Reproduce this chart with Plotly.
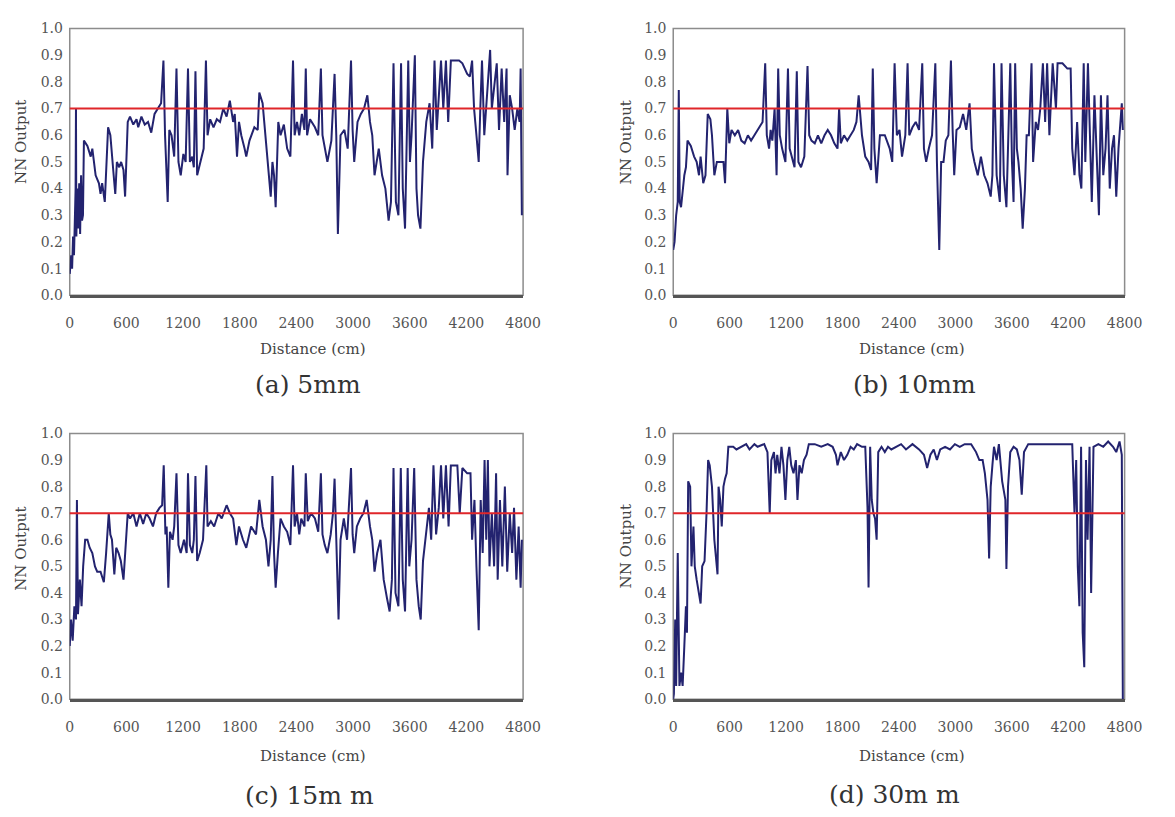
import plotly.graph_objects as go

# ---------------- data ----------------
A_X = [0, 15, 25, 35, 45, 55, 62, 66, 70, 80, 90, 100, 110, 120, 130, 140, 150, 187, 222, 239,
       274, 309, 326, 343, 371, 406, 430, 465, 482, 499, 524, 544, 569, 586, 614, 638, 673, 707, 725, 759,
       794, 829, 863, 898, 933, 967, 992, 1009, 1037, 1054, 1078, 1106, 1130, 1151, 1175, 1203, 1227, 1252, 1272, 1297,
       1314, 1331, 1349, 1383, 1418, 1442, 1459, 1487, 1522, 1557, 1591, 1626, 1661, 1695, 1730, 1747, 1771, 1792, 1816, 1851,
       1869, 1903, 1955, 1990, 2007, 2042, 2077, 2104, 2128, 2146, 2163, 2180, 2208, 2232, 2267, 2302, 2336, 2364, 2381, 2406,
       2430, 2458, 2485, 2499, 2513, 2544, 2596, 2631, 2659, 2676, 2700, 2728, 2770, 2804, 2822, 2839, 2867, 2908, 2943, 2978,
       2995, 3012, 3047, 3082, 3116, 3151, 3179, 3203, 3227, 3248, 3272, 3307, 3342, 3376, 3401, 3428, 3453, 3480, 3508, 3526,
       3550, 3584, 3602, 3619, 3654, 3671, 3688, 3713, 3740, 3775, 3810, 3838, 3862, 3886, 3907, 3931, 3955, 3983, 4007, 4035,
       4122, 4157, 4208, 4236, 4260, 4281, 4306, 4330, 4347, 4365, 4389, 4416, 4451, 4469, 4486, 4521, 4545, 4573, 4600, 4625,
       4635, 4659, 4684, 4711, 4739, 4763, 4774, 4787]
A_Y = [0.08, 0.15, 0.10, 0.22, 0.15, 0.25, 0.40, 0.70, 0.22, 0.40, 0.25, 0.42, 0.23, 0.45, 0.28, 0.30, 0.58, 0.56, 0.52, 0.55,
       0.45, 0.42, 0.38, 0.42, 0.35, 0.63, 0.60, 0.45, 0.38, 0.50, 0.48, 0.50, 0.47, 0.37, 0.65, 0.67, 0.64, 0.66, 0.63, 0.67,
       0.64, 0.65, 0.61, 0.68, 0.70, 0.72, 0.88, 0.60, 0.35, 0.62, 0.60, 0.52, 0.85, 0.50, 0.45, 0.53, 0.50, 0.85, 0.50, 0.52,
       0.48, 0.84, 0.45, 0.50, 0.55, 0.88, 0.60, 0.66, 0.63, 0.66, 0.65, 0.70, 0.67, 0.73, 0.65, 0.68, 0.52, 0.65, 0.60, 0.55,
       0.52, 0.58, 0.63, 0.62, 0.76, 0.72, 0.58, 0.48, 0.37, 0.50, 0.45, 0.33, 0.65, 0.60, 0.64, 0.55, 0.52, 0.88, 0.60, 0.65,
       0.60, 0.68, 0.62, 0.85, 0.60, 0.66, 0.63, 0.60, 0.85, 0.60, 0.55, 0.50, 0.58, 0.83, 0.60, 0.23, 0.60, 0.62, 0.55, 0.88,
       0.62, 0.50, 0.65, 0.68, 0.70, 0.75, 0.65, 0.60, 0.45, 0.50, 0.55, 0.45, 0.40, 0.28, 0.35, 0.87, 0.35, 0.30, 0.87, 0.40,
       0.25, 0.88, 0.50, 0.60, 0.90, 0.40, 0.30, 0.25, 0.50, 0.65, 0.72, 0.55, 0.88, 0.62, 0.75, 0.88, 0.70, 0.88, 0.65, 0.88,
       0.88, 0.87, 0.83, 0.82, 0.88, 0.70, 0.60, 0.50, 0.70, 0.88, 0.60, 0.75, 0.92, 0.70, 0.75, 0.87, 0.62, 0.85, 0.65, 0.85,
       0.45, 0.75, 0.70, 0.62, 0.70, 0.65, 0.85, 0.30]

B_X = [0, 14, 31, 48, 59, 69, 83, 100, 118, 135, 152, 187, 222, 249, 274, 291, 319, 343, 367, 395,
       412, 437, 464, 499, 534, 551, 575, 596, 620, 655, 690, 724, 759, 794, 828, 863, 915, 950, 978, 995,
       1019, 1036, 1054, 1078, 1099, 1116, 1133, 1158, 1193, 1220, 1238, 1262, 1290, 1314, 1331, 1359, 1394, 1428, 1446, 1470,
       1505, 1539, 1574, 1609, 1643, 1678, 1713, 1747, 1764, 1782, 1816, 1851, 1886, 1920, 1948, 1972, 2007, 2042, 2077, 2104,
       2122, 2139, 2163, 2198, 2250, 2302, 2329, 2354, 2378, 2406, 2433, 2468, 2492, 2510, 2544, 2579, 2614, 2648, 2666, 2690,
       2718, 2752, 2787, 2804, 2829, 2849, 2874, 2898, 2926, 2953, 2971, 2988, 3012, 3047, 3082, 3116, 3151, 3175, 3203, 3238,
       3272, 3307, 3342, 3376, 3394, 3411, 3439, 3473, 3491, 3515, 3543, 3567, 3584, 3602, 3619, 3636, 3654, 3671, 3695, 3716,
       3740, 3758, 3782, 3810, 3827, 3855, 3879, 3903, 3931, 3955, 3976, 4000, 4035, 4070, 4087, 4139, 4191, 4226, 4243, 4267,
       4295, 4320, 4340, 4365, 4382, 4410, 4434, 4451, 4479, 4503, 4527, 4548, 4573, 4597, 4618, 4642, 4666, 4687, 4711, 4735,
       4756, 4770, 4781]
B_Y = [0.17, 0.20, 0.30, 0.35, 0.77, 0.35, 0.33, 0.40, 0.45, 0.48, 0.58, 0.56, 0.52, 0.50, 0.45, 0.52, 0.42, 0.45, 0.68, 0.66,
       0.60, 0.45, 0.50, 0.50, 0.50, 0.42, 0.70, 0.57, 0.62, 0.60, 0.62, 0.58, 0.57, 0.60, 0.58, 0.60, 0.63, 0.65, 0.87, 0.60,
       0.55, 0.62, 0.58, 0.70, 0.45, 0.85, 0.60, 0.55, 0.50, 0.85, 0.55, 0.52, 0.48, 0.84, 0.50, 0.48, 0.52, 0.86, 0.60, 0.58,
       0.57, 0.60, 0.57, 0.60, 0.62, 0.60, 0.57, 0.55, 0.70, 0.57, 0.60, 0.58, 0.60, 0.62, 0.65, 0.75, 0.60, 0.52, 0.50, 0.47,
       0.85, 0.55, 0.42, 0.60, 0.60, 0.55, 0.50, 0.87, 0.60, 0.62, 0.52, 0.60, 0.87, 0.60, 0.63, 0.65, 0.62, 0.87, 0.55, 0.50,
       0.55, 0.60, 0.87, 0.50, 0.17, 0.50, 0.50, 0.58, 0.60, 0.88, 0.62, 0.45, 0.62, 0.63, 0.68, 0.62, 0.72, 0.55, 0.50, 0.45,
       0.52, 0.45, 0.42, 0.37, 0.45, 0.87, 0.45, 0.35, 0.87, 0.45, 0.33, 0.60, 0.87, 0.50, 0.35, 0.87, 0.55, 0.50, 0.40, 0.25,
       0.40, 0.60, 0.60, 0.87, 0.50, 0.65, 0.62, 0.70, 0.87, 0.65, 0.87, 0.60, 0.87, 0.70, 0.87, 0.87, 0.85, 0.85, 0.55, 0.45,
       0.65, 0.45, 0.40, 0.87, 0.50, 0.87, 0.55, 0.35, 0.75, 0.50, 0.30, 0.75, 0.45, 0.55, 0.75, 0.40, 0.55, 0.60, 0.37, 0.55,
       0.68, 0.72, 0.62]

C_X = [0, 14, 31, 49, 66, 76, 87, 107, 125, 142, 163, 187, 211, 239, 267, 291, 326, 361, 385, 413,
       430, 447, 472, 492, 517, 541, 569, 593, 614, 638, 673, 707, 742, 777, 811, 846, 881, 915, 950, 978,
       995, 1013, 1026, 1044, 1061, 1089, 1106, 1130, 1151, 1175, 1210, 1238, 1252, 1272, 1297, 1314, 1331, 1349, 1376, 1411,
       1446, 1459, 1494, 1529, 1574, 1609, 1661, 1695, 1730, 1764, 1792, 1834, 1869, 1920, 1972, 2007, 2042, 2077, 2104, 2128,
       2146, 2163, 2180, 2204, 2232, 2267, 2302, 2336, 2364, 2381, 2406, 2430, 2451, 2485, 2499, 2520, 2555, 2596, 2631, 2659,
       2676, 2700, 2728, 2763, 2787, 2804, 2822, 2846, 2867, 2902, 2936, 2978, 2995, 3012, 3040, 3075, 3110, 3144, 3179, 3203,
       3227, 3255, 3290, 3324, 3359, 3387, 3411, 3428, 3449, 3480, 3505, 3526, 3550, 3578, 3595, 3619, 3647, 3671, 3695, 3716,
       3740, 3768, 3803, 3827, 3851, 3879, 3907, 3931, 3955, 3983, 4011, 4035, 4104, 4129, 4157, 4208, 4243, 4260, 4285, 4306,
       4330, 4351, 4372, 4392, 4410, 4427, 4444, 4469, 4493, 4514, 4531, 4555, 4580, 4607, 4632, 4659, 4684, 4704, 4729, 4753,
       4774, 4787]
C_Y = [0.20, 0.30, 0.22, 0.35, 0.30, 0.75, 0.32, 0.45, 0.35, 0.50, 0.60, 0.60, 0.57, 0.55, 0.50, 0.48, 0.48, 0.44, 0.55, 0.70,
       0.62, 0.60, 0.47, 0.57, 0.55, 0.52, 0.45, 0.60, 0.70, 0.68, 0.70, 0.65, 0.70, 0.66, 0.70, 0.68, 0.65, 0.70, 0.72, 0.73,
       0.88, 0.62, 0.65, 0.42, 0.63, 0.60, 0.65, 0.85, 0.58, 0.55, 0.60, 0.55, 0.85, 0.58, 0.55, 0.60, 0.84, 0.52, 0.55, 0.60,
       0.88, 0.65, 0.67, 0.65, 0.70, 0.68, 0.73, 0.70, 0.68, 0.58, 0.65, 0.60, 0.57, 0.65, 0.62, 0.75, 0.65, 0.60, 0.50, 0.60,
       0.84, 0.55, 0.42, 0.55, 0.68, 0.65, 0.63, 0.58, 0.88, 0.65, 0.70, 0.62, 0.68, 0.65, 0.85, 0.67, 0.70, 0.68, 0.63, 0.85,
       0.62, 0.58, 0.55, 0.62, 0.70, 0.83, 0.60, 0.30, 0.60, 0.68, 0.60, 0.87, 0.62, 0.55, 0.65, 0.68, 0.70, 0.75, 0.65, 0.60,
       0.48, 0.55, 0.60, 0.45, 0.38, 0.33, 0.45, 0.87, 0.40, 0.35, 0.87, 0.45, 0.33, 0.87, 0.50, 0.60, 0.87, 0.45, 0.35, 0.30,
       0.52, 0.62, 0.72, 0.60, 0.88, 0.62, 0.72, 0.88, 0.68, 0.88, 0.65, 0.88, 0.88, 0.70, 0.87, 0.85, 0.85, 0.60, 0.75, 0.50,
       0.26, 0.75, 0.55, 0.90, 0.60, 0.90, 0.50, 0.70, 0.50, 0.85, 0.45, 0.75, 0.50, 0.80, 0.48, 0.70, 0.55, 0.72, 0.45, 0.65,
       0.42, 0.60]

D_X = [0, 7, 21, 31, 48, 66, 83, 100, 118, 135, 146, 159, 180, 194, 215, 229, 249, 274, 291, 308,
       333, 354, 371, 388, 412, 437, 457, 471, 482, 499, 516, 534, 551, 568, 586, 638, 672, 724, 776, 811,
       863, 897, 967, 1002, 1026, 1043, 1071, 1088, 1106, 1130, 1151, 1172, 1193, 1213, 1234, 1255, 1279, 1304, 1321, 1342,
       1366, 1390, 1418, 1442, 1505, 1574, 1643, 1695, 1730, 1747, 1782, 1816, 1851, 1886, 1920, 1955, 2007, 2042, 2066, 2077,
       2094, 2111, 2129, 2146, 2163, 2180, 2215, 2250, 2284, 2319, 2371, 2423, 2475, 2544, 2614, 2666, 2700, 2735, 2770, 2804,
       2839, 2891, 2943, 2995, 3047, 3099, 3168, 3220, 3255, 3290, 3314, 3342, 3359, 3376, 3394, 3411, 3439, 3463, 3498, 3532,
       3543, 3560, 3584, 3619, 3654, 3682, 3706, 3730, 3775, 3862, 3966, 4070, 4174, 4243, 4267, 4285, 4302, 4319, 4337, 4354,
       4371, 4389, 4406, 4427, 4444, 4469, 4521, 4573, 4625, 4677, 4711, 4746, 4770, 4781]
D_Y = [0.00, 0.02, 0.30, 0.05, 0.55, 0.05, 0.10, 0.05, 0.20, 0.35, 0.25, 0.82, 0.80, 0.50, 0.65, 0.50, 0.45, 0.40, 0.36, 0.50,
       0.52, 0.70, 0.90, 0.88, 0.80, 0.60, 0.50, 0.47, 0.80, 0.75, 0.65, 0.80, 0.83, 0.85, 0.95, 0.95, 0.94, 0.95, 0.96, 0.94,
       0.96, 0.95, 0.96, 0.93, 0.70, 0.90, 0.93, 0.85, 0.92, 0.85, 0.95, 0.88, 0.75, 0.90, 0.95, 0.88, 0.85, 0.90, 0.75, 0.88,
       0.85, 0.90, 0.92, 0.96, 0.96, 0.95, 0.96, 0.95, 0.92, 0.88, 0.93, 0.90, 0.92, 0.95, 0.94, 0.96, 0.95, 0.95, 0.72, 0.42,
       0.95, 0.75, 0.70, 0.68, 0.60, 0.93, 0.95, 0.93, 0.95, 0.94, 0.95, 0.96, 0.94, 0.96, 0.94, 0.92, 0.87, 0.92, 0.94, 0.90,
       0.94, 0.95, 0.94, 0.96, 0.95, 0.96, 0.96, 0.93, 0.90, 0.90, 0.85, 0.75, 0.53, 0.80, 0.88, 0.95, 0.90, 0.96, 0.82, 0.75,
       0.49, 0.80, 0.93, 0.95, 0.94, 0.90, 0.77, 0.93, 0.96, 0.96, 0.96, 0.96, 0.96, 0.96, 0.70, 0.90, 0.50, 0.35, 0.95, 0.25,
       0.12, 0.90, 0.60, 0.95, 0.40, 0.95, 0.96, 0.95, 0.97, 0.95, 0.93, 0.97, 0.92, 0.00]

X_TICKS = [0, 600, 1200, 1800, 2400, 3000, 3600, 4200, 4800]
Y_TICKS = [0.0, 0.1, 0.2, 0.3, 0.4, 0.5, 0.6, 0.7, 0.8, 0.9, 1.0]
THRESHOLD = 0.7
CAPTIONS = ["(a) 5mm", "(b) 10mm", "(c) 15m m", "(d) 30m m"]
X_TITLE = "Distance (cm)"
Y_TITLE = "NN Output"

for xs, ys in [(A_X, A_Y), (B_X, B_Y), (C_X, C_Y), (D_X, D_Y)]:
    assert len(xs) == len(ys), (len(xs), len(ys))

# ---------------- layout helpers (pixel geometry) ----------------
W, H = 1175, 817
FONT = "DejaVu Serif"


def fx(p):
    return p / W


def fy(p):
    return 1 - p / H


panels = [
    dict(x=A_X, y=A_Y, xl=67, xr=529, yt=21, yb=293, cap=(310, 384), dist=(315, 348), yt_pos=(18, 137)),
    dict(x=B_X, y=B_Y, xl=682, xr=1142, yt=21, yb=293, cap=(928, 384), dist=(925, 348), yt_pos=(634, 137)),
    dict(x=C_X, y=C_Y, xl=67, xr=529, yt=434, yb=705, cap=(311, 803), dist=(315, 763), yt_pos=(18, 552)),
    dict(x=D_X, y=D_Y, xl=682, xr=1142, yt=434, yb=705, cap=(908, 802), dist=(925, 763), yt_pos=(634, 549)),
]

fig = go.Figure()
layout = dict(
    width=W, height=H,
    margin=dict(l=0, r=0, t=0, b=0),
    paper_bgcolor="white", plot_bgcolor="white",
    showlegend=False,
    font=dict(family=FONT, color="#444"),
)
shapes = []
annotations = []

for i, p in enumerate(panels):
    n = "" if i == 0 else str(i + 1)
    xa, ya = "x" + n, "y" + n
    fig.add_trace(go.Scatter(
        x=p["x"], y=p["y"], mode="lines", xaxis=xa, yaxis=ya,
        line=dict(color="#23236f", width=2), hoverinfo="skip",
    ))
    layout["xaxis" + n] = dict(
        domain=[fx(p["xl"]), fx(p["xr"])], anchor=ya, range=[0, 4800],
        tickvals=X_TICKS, ticktext=[str(v) for v in X_TICKS],
        ticks="outside", ticklen=13, tickcolor="rgba(0,0,0,0)",
        tickfont=dict(family=FONT, size=14, color="#555"),
        showgrid=False, zeroline=False,
        showline=True, linewidth=3, linecolor="#555",
    )
    layout["yaxis" + n] = dict(
        domain=[fy(p["yb"]), fy(p["yt"])], anchor=xa, range=[0, 1],
        tickvals=Y_TICKS, ticktext=["%.1f" % v for v in Y_TICKS],
        ticks="outside", ticklen=3, tickcolor="rgba(0,0,0,0)",
        tickfont=dict(family=FONT, size=14, color="#555"),
        showgrid=False, zeroline=False, showline=False,
    )
    # plot frame
    shapes.append(dict(type="rect", xref="paper", yref="paper",
                       x0=fx(p["xl"]), x1=fx(p["xr"]), y0=fy(p["yb"]), y1=fy(p["yt"]),
                       line=dict(color="#8c8c8c", width=1.5), layer="below"))
    # threshold line
    shapes.append(dict(type="line", xref=xa + " domain", yref=ya,
                       x0=0, x1=1, y0=THRESHOLD, y1=THRESHOLD,
                       line=dict(color="#e0262a", width=2), layer="above"))
    annotations.append(dict(text=Y_TITLE, xref="paper", yref="paper",
                            x=fx(p["yt_pos"][0]), y=fy(p["yt_pos"][1]), textangle=-90,
                            showarrow=False, xanchor="center", yanchor="middle",
                            font=dict(family=FONT, size=15, color="#444")))
    annotations.append(dict(text=X_TITLE, xref="paper", yref="paper",
                            x=fx(p["dist"][0]), y=fy(p["dist"][1]),
                            showarrow=False, xanchor="center", yanchor="middle",
                            font=dict(family=FONT, size=15, color="#444")))
    annotations.append(dict(text=CAPTIONS[i], xref="paper", yref="paper",
                            x=fx(p["cap"][0]), y=fy(p["cap"][1]),
                            showarrow=False, xanchor="center", yanchor="middle",
                            font=dict(family=FONT, size=25, color="#333")))

layout["shapes"] = shapes
layout["annotations"] = annotations
fig.update_layout(**layout)
fig.write_html(
    "out.html",
    config={"displayModeBar": False, "staticPlot": True},
    post_script="document.body.style.margin='0px';document.body.style.overflow='hidden';",
)
